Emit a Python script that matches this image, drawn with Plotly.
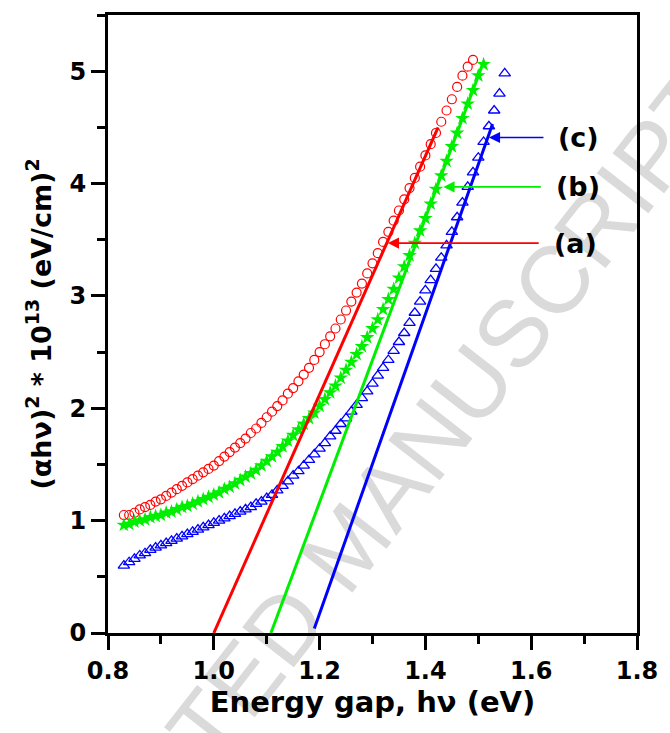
import plotly.graph_objects as go

# Photon energy (eV)
energy_a = [0.83, 0.84, 0.85, 0.86, 0.87, 0.88, 0.89, 0.90, 0.91, 0.92, 0.93, 0.94, 0.95, 0.96,
            0.97, 0.98, 0.99, 1.00, 1.01, 1.02, 1.03, 1.04, 1.05, 1.06, 1.07, 1.08, 1.09, 1.10,
            1.11, 1.12, 1.13, 1.14, 1.15, 1.16, 1.17, 1.18, 1.19, 1.20, 1.21, 1.22, 1.23, 1.24,
            1.25, 1.26, 1.27, 1.28, 1.29, 1.30, 1.31, 1.32, 1.33, 1.34, 1.35, 1.36, 1.37, 1.38,
            1.39, 1.40, 1.41, 1.42, 1.43, 1.44, 1.45, 1.46, 1.47, 1.48, 1.49]
alpha_a = [1.05, 1.05, 1.07, 1.10, 1.12, 1.14, 1.17, 1.19, 1.22, 1.25, 1.28, 1.31, 1.34, 1.37,
           1.40, 1.43, 1.46, 1.49, 1.53, 1.57, 1.61, 1.65, 1.69, 1.73, 1.78, 1.82, 1.87, 1.92,
           1.97, 2.02, 2.07, 2.13, 2.18, 2.24, 2.30, 2.36, 2.43, 2.50, 2.57, 2.64, 2.71, 2.79,
           2.87, 2.95, 3.03, 3.11, 3.20, 3.29, 3.38, 3.48, 3.57, 3.67, 3.76, 3.86, 3.96, 4.05,
           4.15, 4.25, 4.35, 4.45, 4.55, 4.65, 4.75, 4.86, 4.96, 5.04, 5.10]

energy_b = [0.83, 0.84, 0.85, 0.86, 0.87, 0.88, 0.89, 0.90, 0.91, 0.92, 0.93, 0.94, 0.95, 0.96,
            0.97, 0.98, 0.99, 1.00, 1.01, 1.02, 1.03, 1.04, 1.05, 1.06, 1.07, 1.08, 1.09, 1.10,
            1.11, 1.12, 1.13, 1.14, 1.15, 1.16, 1.17, 1.18, 1.19, 1.20, 1.21, 1.22, 1.23, 1.24,
            1.25, 1.26, 1.27, 1.28, 1.29, 1.30, 1.31, 1.32, 1.33, 1.34, 1.35, 1.36, 1.37, 1.38,
            1.39, 1.40, 1.41, 1.42, 1.43, 1.44, 1.45, 1.46, 1.47, 1.48, 1.49, 1.50, 1.51]
alpha_b = [0.96, 0.97, 0.99, 1.00, 1.01, 1.03, 1.04, 1.05, 1.07, 1.08, 1.10, 1.12, 1.13, 1.15,
           1.17, 1.19, 1.21, 1.23, 1.25, 1.28, 1.30, 1.33, 1.36, 1.39, 1.42, 1.45, 1.49, 1.53,
           1.57, 1.61, 1.66, 1.71, 1.76, 1.81, 1.86, 1.91, 1.96, 2.02, 2.08, 2.14, 2.20, 2.27,
           2.34, 2.41, 2.48, 2.55, 2.63, 2.71, 2.79, 2.88, 2.97, 3.06, 3.16, 3.26, 3.36, 3.47,
           3.58, 3.69, 3.82, 3.95, 4.07, 4.20, 4.33, 4.45, 4.58, 4.71, 4.83, 4.96, 5.06]

energy_c = [0.83, 0.84, 0.85, 0.86, 0.87, 0.88, 0.89, 0.90, 0.91, 0.92, 0.93, 0.94, 0.95, 0.96,
            0.97, 0.98, 0.99, 1.00, 1.01, 1.02, 1.03, 1.04, 1.05, 1.06, 1.07, 1.08, 1.09, 1.10,
            1.11, 1.12, 1.13, 1.14, 1.15, 1.16, 1.17, 1.18, 1.19, 1.20, 1.21, 1.22, 1.23, 1.24,
            1.25, 1.26, 1.27, 1.28, 1.29, 1.30, 1.31, 1.32, 1.33, 1.34, 1.35, 1.36, 1.37, 1.38,
            1.39, 1.40, 1.41, 1.42, 1.43, 1.44, 1.45, 1.46, 1.47, 1.48, 1.49, 1.50, 1.51, 1.52,
            1.53, 1.54, 1.55]
alpha_c = [0.60, 0.63, 0.66, 0.69, 0.71, 0.74, 0.76, 0.78, 0.80, 0.82, 0.84, 0.86, 0.88, 0.90,
           0.92, 0.94, 0.96, 0.98, 1.00, 1.02, 1.04, 1.06, 1.08, 1.10, 1.12, 1.15, 1.17, 1.20,
           1.23, 1.27, 1.31, 1.35, 1.40, 1.44, 1.49, 1.54, 1.59, 1.64, 1.69, 1.75, 1.80, 1.86,
           1.91, 1.97, 2.03, 2.09, 2.15, 2.22, 2.29, 2.36, 2.43, 2.51, 2.59, 2.67, 2.76, 2.85,
           2.95, 3.05, 3.14, 3.24, 3.34, 3.45, 3.57, 3.70, 3.83, 3.97, 4.10, 4.23, 4.37, 4.51,
           4.65, 4.80, 4.98]

# Linear extrapolation lines (x, y end points)
fit_a_x = [1.00, 1.424]
fit_a_y = [0.00, 4.50]
fit_b_x = [1.108, 1.508]
fit_b_y = [0.00, 5.06]
fit_c_x = [1.19, 1.527]
fit_c_y = [0.04, 4.53]

# Labels and arrows
labels = ["(a)", "(b)", "(c)"]
label_y = [3.47, 3.97, 4.41]
arrow_head_x = [1.329, 1.434, 1.520]
arrow_tail_x = [1.617, 1.621, 1.626]
label_x = [1.640, 1.643, 1.646]

RED, GREEN, BLUE = "#ff0000", "#00ee00", "#0000ff"
colors = [RED, GREEN, BLUE]
FONT = "DejaVu Sans"

fig = go.Figure()

fig.add_trace(go.Scatter(x=energy_a, y=alpha_a, mode="markers",
                         marker=dict(symbol="circle-open", size=9, color=RED, line=dict(width=1.2))))
fig.add_trace(go.Scatter(x=energy_b, y=alpha_b, mode="markers",
                         marker=dict(symbol="star", size=11, color=GREEN, line=dict(width=0))))
fig.add_trace(go.Scatter(x=energy_c, y=alpha_c, mode="markers",
                         marker=dict(symbol="triangle-up-open", size=10, color=BLUE, line=dict(width=1.3))))

for fx, fy, c in [(fit_a_x, fit_a_y, RED), (fit_b_x, fit_b_y, GREEN), (fit_c_x, fit_c_y, BLUE)]:
    fig.add_trace(go.Scatter(x=fx, y=fy, mode="lines", line=dict(color=c, width=3)))

for lab, ly, hx, tx, lx, c in zip(labels, label_y, arrow_head_x, arrow_tail_x, label_x, colors):
    fig.add_annotation(x=hx, y=ly, ax=tx, ay=ly, xref="x", yref="y", axref="x", ayref="y",
                       text="", showarrow=True, arrowhead=2, arrowsize=1.4, arrowwidth=1.6,
                       arrowcolor=c)
    fig.add_annotation(x=lx, y=ly, xref="x", yref="y", text=lab, showarrow=False,
                       xanchor="left", yanchor="middle",
                       font=dict(family=FONT, size=27, color="black", weight="bold"))

# Watermark (behind data)
fig.add_shape(type="line", xref="paper", yref="paper", x0=0.406, y0=-0.036, x1=0.630, y1=0.223,
              line=dict(color="rgba(0,0,0,0)", width=0), layer="below",
              label=dict(text="ACCEPTED MANUSCRIPT", textangle=-52, textposition="middle",
                         font=dict(family="Liberation Sans", size=95, color="#dadada")))

axis_common = dict(showline=True, linewidth=3, linecolor="black", mirror=True,
                   ticks="outside", ticklen=14, tickwidth=3, tickcolor="black",
                   showgrid=False, zeroline=False,
                   tickfont=dict(family=FONT, size=24, color="black", weight="bold"))

fig.update_layout(
    width=670, height=733,
    margin=dict(l=108, r=27, t=15, b=100),
    plot_bgcolor="white", paper_bgcolor="white",
    showlegend=False,
    xaxis=dict(range=[0.8, 1.8], tick0=0.8, dtick=0.2, tickformat=".1f",
               minor=dict(dtick=0.1, ticks="outside", ticklen=8, tickwidth=3, tickcolor="black"),
               title=dict(text="Energy gap, h\u03bd (eV)", standoff=8,
                          font=dict(family=FONT, size=29, color="black", weight="bold")),
               **axis_common),
    yaxis=dict(range=[0, 5.5], tick0=0, dtick=1, tickformat="d",
               minor=dict(dtick=0.5, ticks="outside", ticklen=8, tickwidth=3, tickcolor="black"),
               title=dict(text="(\u03b1h\u03bd)<sup>2</sup> * 10<sup>13</sup> (eV/cm)<sup>2</sup>",
                          standoff=11,
                          font=dict(family=FONT, size=27, color="black", weight="bold")),
               **axis_common),
)

fig.write_html("out.html", config={"displayModeBar": False},
               post_script="document.body.style.margin='0';document.body.style.overflow='hidden';")
